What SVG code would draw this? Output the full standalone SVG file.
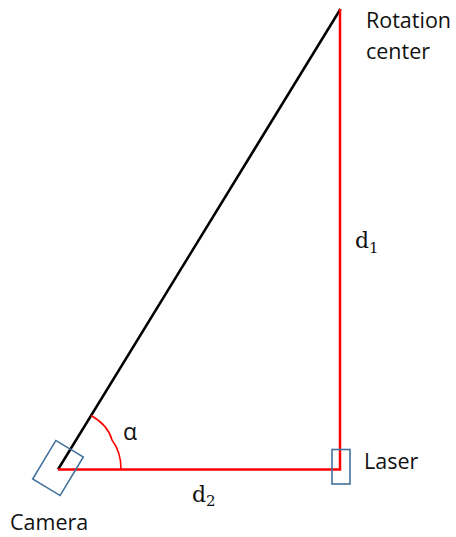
<svg xmlns="http://www.w3.org/2000/svg" width="456" height="537" viewBox="0 0 456 537">
<style>
.lbl{font-family:"Open Sans","Liberation Sans",sans-serif;font-size:21.5px;fill:#111}
.math{font-family:"DejaVu Serif","Liberation Serif",serif;font-size:22px;fill:#111}
.sub{font-size:15px}
.alpha{font-family:"Open Sans","Liberation Sans",sans-serif;font-size:23px;fill:#111}
.red{stroke:#ff0000;stroke-width:2.5;fill:none}
.arc{stroke:#ff0000;stroke-width:1.6;fill:none}
.box{stroke:#41719c;stroke-width:1.6;fill:none}
</style>
<rect width="456" height="537" fill="#fff"/>
<g id="connectors">
<line x1="58" y1="469.5" x2="340.5" y2="9" stroke="#000" stroke-width="2.5"/>
<polyline class="red" points="58,469.5 340,469.5 340,9"/>
<path class="arc" d="M91,415.5 Q108,425 112,440 Q121,452 121,469"/>
</g>
<g id="camera">
<rect class="box" x="42" y="445.5" width="32" height="45" transform="rotate(31 58 468)"/>
<text class="lbl" x="10" y="530">Camera</text>
</g>
<g id="laser">
<rect class="box" x="332" y="449.5" width="18" height="34.5"/>
<text class="lbl" x="364" y="469">Laser</text>
</g>
<g id="rotation-center">
<text class="lbl" x="366" y="28">Rotation</text>
<text class="lbl" x="366" y="59">center</text>
</g>
<g id="labels">
<text class="math" x="355" y="248">d<tspan class="sub" dy="5">1</tspan></text>
<text class="math" x="192" y="502">d<tspan class="sub" dy="4">2</tspan></text>
<text class="alpha" x="123" y="440">α</text>
</g>
</svg>
